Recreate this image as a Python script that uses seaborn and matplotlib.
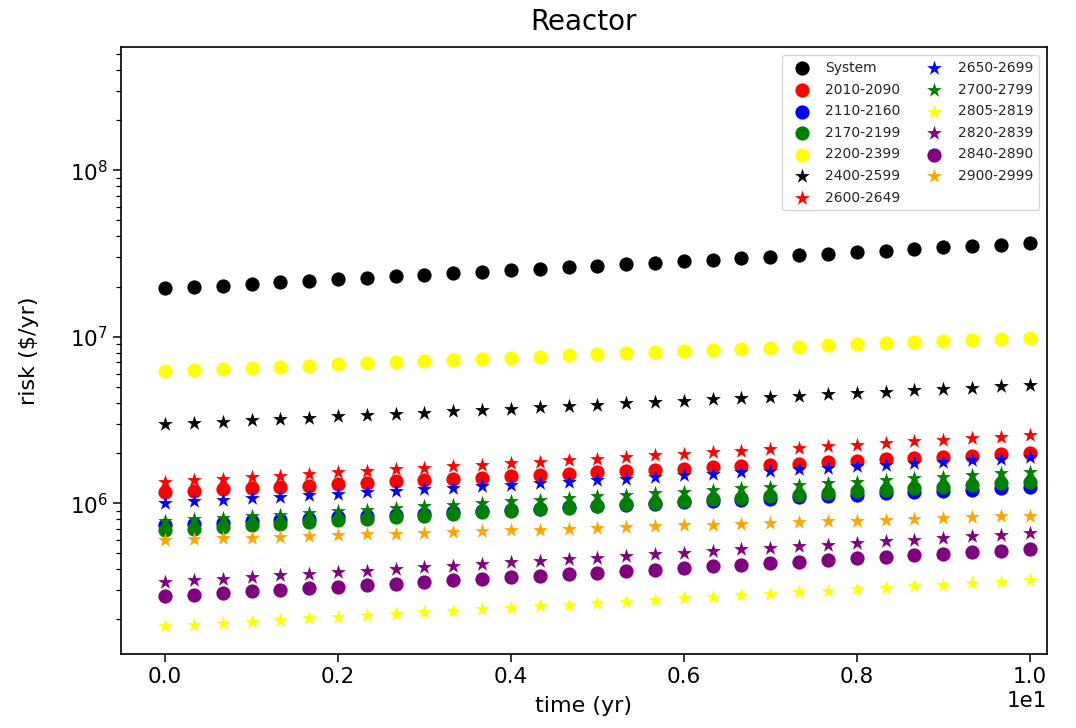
import numpy as np
import pandas as pd
import seaborn as sns
import matplotlib
matplotlib.use("Agg")
import matplotlib.pyplot as plt

# time grid (yr)
time = np.linspace(0, 10, 31)

labels = ["System", "2010-2090", "2110-2160", "2170-2199", "2200-2399",
          "2400-2599", "2600-2649", "2650-2699", "2700-2799", "2805-2819",
          "2820-2839", "2840-2890", "2900-2999"]
colors = ["black", "red", "blue", "green", "yellow",
          "black", "red", "blue", "green", "yellow",
          "purple", "purple", "orange"]
markers = ["o", "o", "o", "o", "o",
           "*", "*", "*", "*", "*",
           "*", "o", "*"]

# risk per group ($/yr)
system = [1.95e7, 1.99e7, 2.03e7, 2.08e7, 2.12e7, 2.17e7, 2.21e7, 2.26e7, 2.31e7, 2.35e7,
          2.41e7, 2.45e7, 2.51e7, 2.56e7, 2.61e7, 2.67e7, 2.73e7, 2.78e7, 2.85e7, 2.90e7,
          2.97e7, 3.03e7, 3.09e7, 3.16e7, 3.23e7, 3.29e7, 3.36e7, 3.44e7, 3.51e7, 3.58e7, 3.66e7]
g2010 = [1.16e6, 1.19e6, 1.21e6, 1.23e6, 1.25e6, 1.27e6, 1.30e6, 1.32e6, 1.35e6, 1.37e6,
         1.40e6, 1.42e6, 1.45e6, 1.47e6, 1.50e6, 1.53e6, 1.56e6, 1.58e6, 1.61e6, 1.64e6,
         1.67e6, 1.70e6, 1.73e6, 1.77e6, 1.80e6, 1.83e6, 1.86e6, 1.90e6, 1.93e6, 1.97e6, 2.00e6]
g2110 = [7.38e5, 7.51e5, 7.64e5, 7.78e5, 7.92e5, 8.06e5, 8.20e5, 8.34e5, 8.49e5, 8.64e5,
         8.79e5, 8.95e5, 9.11e5, 9.27e5, 9.43e5, 9.60e5, 9.77e5, 9.94e5, 1.012e6, 1.030e6,
         1.048e6, 1.066e6, 1.085e6, 1.104e6, 1.124e6, 1.144e6, 1.164e6, 1.185e6, 1.206e6, 1.227e6, 1.249e6]
g2170 = [6.89e5, 7.04e5, 7.20e5, 7.37e5, 7.53e5, 7.70e5, 7.88e5, 8.05e5, 8.23e5, 8.42e5,
         8.61e5, 8.80e5, 9.00e5, 9.21e5, 9.41e5, 9.63e5, 9.84e5, 1.006e6, 1.029e6, 1.052e6,
         1.076e6, 1.100e6, 1.125e6, 1.150e6, 1.176e6, 1.203e6, 1.230e6, 1.257e6, 1.286e6, 1.315e6, 1.344e6]
g2200 = [6.21e6, 6.31e6, 6.41e6, 6.51e6, 6.61e6, 6.71e6, 6.81e6, 6.92e6, 7.03e6, 7.14e6,
         7.25e6, 7.36e6, 7.48e6, 7.59e6, 7.71e6, 7.83e6, 7.95e6, 8.08e6, 8.20e6, 8.33e6,
         8.46e6, 8.59e6, 8.73e6, 8.86e6, 9.00e6, 9.14e6, 9.28e6, 9.43e6, 9.58e6, 9.73e6, 9.88e6]
g2400 = [2.98e6, 3.03e6, 3.09e6, 3.15e6, 3.20e6, 3.26e6, 3.32e6, 3.38e6, 3.44e6, 3.50e6,
         3.57e6, 3.63e6, 3.70e6, 3.76e6, 3.83e6, 3.90e6, 3.97e6, 4.05e6, 4.12e6, 4.20e6,
         4.27e6, 4.35e6, 4.43e6, 4.51e6, 4.59e6, 4.68e6, 4.76e6, 4.85e6, 4.94e6, 5.03e6, 5.12e6]
g2600 = [1.343e6, 1.372e6, 1.402e6, 1.432e6, 1.463e6, 1.495e6, 1.528e6, 1.561e6, 1.595e6, 1.629e6,
         1.665e6, 1.701e6, 1.738e6, 1.775e6, 1.814e6, 1.853e6, 1.893e6, 1.935e6, 1.977e6, 2.020e6,
         2.063e6, 2.108e6, 2.154e6, 2.201e6, 2.249e6, 2.297e6, 2.347e6, 2.398e6, 2.450e6, 2.503e6, 2.558e6]
g2650 = [1.005e6, 1.026e6, 1.048e6, 1.070e6, 1.093e6, 1.116e6, 1.140e6, 1.164e6, 1.189e6, 1.214e6,
         1.240e6, 1.266e6, 1.293e6, 1.320e6, 1.348e6, 1.377e6, 1.406e6, 1.436e6, 1.466e6, 1.497e6,
         1.529e6, 1.561e6, 1.594e6, 1.628e6, 1.663e6, 1.698e6, 1.734e6, 1.771e6, 1.808e6, 1.847e6, 1.886e6]
g2700 = [7.80e5, 7.98e5, 8.16e5, 8.35e5, 8.54e5, 8.74e5, 8.94e5, 9.14e5, 9.35e5, 9.57e5,
         9.79e5, 1.001e6, 1.024e6, 1.048e6, 1.072e6, 1.097e6, 1.122e6, 1.148e6, 1.174e6, 1.201e6,
         1.229e6, 1.257e6, 1.286e6, 1.315e6, 1.346e6, 1.377e6, 1.408e6, 1.441e6, 1.474e6, 1.508e6, 1.542e6]
g2805 = [1.824e5, 1.863e5, 1.903e5, 1.944e5, 1.986e5, 2.029e5, 2.072e5, 2.117e5, 2.162e5, 2.209e5,
         2.256e5, 2.305e5, 2.354e5, 2.405e5, 2.457e5, 2.509e5, 2.563e5, 2.618e5, 2.675e5, 2.732e5,
         2.791e5, 2.851e5, 2.912e5, 2.975e5, 3.039e5, 3.104e5, 3.171e5, 3.239e5, 3.309e5, 3.380e5, 3.453e5]
g2820 = [3.36e5, 3.44e5, 3.51e5, 3.59e5, 3.68e5, 3.76e5, 3.85e5, 3.93e5, 4.02e5, 4.12e5,
         4.21e5, 4.31e5, 4.40e5, 4.50e5, 4.61e5, 4.71e5, 4.82e5, 4.93e5, 5.04e5, 5.16e5,
         5.27e5, 5.39e5, 5.52e5, 5.64e5, 5.77e5, 5.90e5, 6.04e5, 6.17e5, 6.31e5, 6.46e5, 6.61e5]
g2840 = [2.76e5, 2.82e5, 2.88e5, 2.95e5, 3.01e5, 3.08e5, 3.14e5, 3.21e5, 3.28e5, 3.35e5,
         3.43e5, 3.50e5, 3.58e5, 3.66e5, 3.74e5, 3.82e5, 3.90e5, 3.99e5, 4.08e5, 4.17e5,
         4.26e5, 4.35e5, 4.45e5, 4.55e5, 4.65e5, 4.75e5, 4.85e5, 4.96e5, 5.07e5, 5.18e5, 5.29e5]
g2900 = [6.00e5, 6.07e5, 6.14e5, 6.21e5, 6.28e5, 6.35e5, 6.42e5, 6.49e5, 6.56e5, 6.64e5,
         6.71e5, 6.79e5, 6.87e5, 6.94e5, 7.02e5, 7.10e5, 7.18e5, 7.26e5, 7.35e5, 7.43e5,
         7.51e5, 7.60e5, 7.69e5, 7.77e5, 7.86e5, 7.95e5, 8.04e5, 8.13e5, 8.22e5, 8.32e5, 8.41e5]

series = [system, g2010, g2110, g2170, g2200, g2400, g2600,
          g2650, g2700, g2805, g2820, g2840, g2900]

sns.set_theme(style="ticks")
plt.rcParams["font.family"] = ["DejaVu Sans"]

fig = plt.figure(figsize=(10.76, 7.28), dpi=100)
ax = fig.add_axes([0.1125, 0.1016, 0.8605, 0.8338])

for lab, col, mk, vals in zip(labels, colors, markers, series):
    df = pd.DataFrame({"time": time, "risk": vals})
    size = 125 if mk == "*" else 105
    sns.scatterplot(data=df, x="time", y="risk", color=col, marker=mk,
                    s=size, linewidth=0, label=lab, ax=ax)

ax.set_yscale("log")
ax.set_ylim(1.24e5, 5.5e8)
ax.set_xlim(-0.51, 10.2)
ax.ticklabel_format(axis="x", style="sci", scilimits=(0, 0))
ax.xaxis.get_offset_text().set_fontsize(15.5)

for sp in ax.spines.values():
    sp.set_color("black")
    sp.set_linewidth(1.2)
ax.tick_params(axis="both", which="major", labelsize=15.5, colors="black",
               length=6, width=1.1)
ax.tick_params(axis="y", which="minor", length=3.5, width=0.9, colors="black")

ax.set_xlabel("time (yr)", fontsize=16, color="black", labelpad=6)
ax.set_ylabel("risk (\\$/yr)", fontsize=16, color="black", labelpad=22)
ax.set_title("Reactor", fontsize=20, color="black", pad=12)

ax.legend(loc="upper right", ncol=2, fontsize=10, frameon=True,
          columnspacing=1.4, handletextpad=0.7, labelspacing=0.55,
          borderaxespad=0.6)

fig.savefig("out.png", dpi=100)
